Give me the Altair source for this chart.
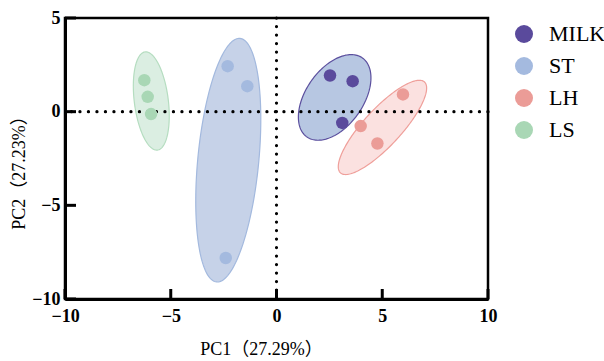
import altair as alt
import pandas as pd
import numpy as np

# ---- data ----
groups = ["MILK", "ST", "LH", "LS"]
point_colors = ["#5a4a9c", "#a4badf", "#eb9c97", "#a9d7b5"]

pt_group = ["MILK", "MILK", "MILK", "ST", "ST", "ST", "LH", "LH", "LH", "LS", "LS", "LS"]
pc1 = [2.53, 3.60, 3.11, -2.31, -1.38, -2.40, 5.98, 3.98, 4.77, -6.25, -6.09, -5.93]
pc2 = [1.93, 1.63, -0.60, 2.43, 1.36, -7.81, 0.92, -0.77, -1.70, 1.68, 0.79, -0.13]

# confidence ellipses: centre, major semi-axis vector, minor semi-axis vector (data units)
ell_group = ["ST", "LS", "MILK", "LH"]
ell_cx = [-2.28, -5.92, 2.75, 5.01]
ell_cy = [-2.59, 0.57, 0.76, -0.84]
ell_ux = [0.553, -0.293, 1.31, 1.987]
ell_uy = [6.50, 2.62, 2.11, 2.424]
ell_vx = [1.435, 0.797, 1.108, 0.645]
ell_vy = [-0.156, 0.114, -0.876, -0.674]
ell_fill = ["#c6d2e8", "#dbeee2", "#b7c7e2", "#fbe1e0"]
ell_stroke = ["#a3b9de", "#b5ddc0", "#5b4f9e", "#ef9f9a"]

x_ticks = [-10, -5, 0, 5, 10]
y_ticks = [-10, -5, 0, 5]

x_title = "PC1（27.29%）"
y_title = "PC2（27.23%）"

W, H = 423, 281
FONT = "Liberation Serif, Noto Sans CJK SC"

# ---- tables ----
points = pd.DataFrame({"group": pt_group, "x": pc1, "y": pc2})

t = np.linspace(0, 2 * np.pi, 181)
ell_tables = []
for i, g in enumerate(ell_group):
    ell_tables.append(pd.DataFrame({
        "group": g,
        "idx": np.arange(len(t)),
        "x": ell_cx[i] + np.cos(t) * ell_ux[i] + np.sin(t) * ell_vx[i],
        "y": ell_cy[i] + np.cos(t) * ell_uy[i] + np.sin(t) * ell_vy[i],
    }))

xs = alt.Scale(domain=[-10, 10], nice=False, zero=False)
ys = alt.Scale(domain=[-10, 5], nice=False, zero=False)

xaxis = alt.Axis(values=x_ticks, title=x_title, ticks=False, grid=False,
                 domainWidth=3, domainColor="black",
                 labelFont=FONT, labelFontWeight="bold", labelFontSize=18,
                 labelColor="black", labelPadding=8, labelFlush=False,
                 titleFont=FONT, titleFontSize=18, titleFontWeight="normal",
                 titleColor="black", titleX=196, titleY=50,
                 titleBaseline="middle", titleAlign="center")
yaxis = alt.Axis(values=y_ticks, title=y_title, ticks=False, grid=False,
                 domainWidth=3, domainColor="black",
                 labelFont=FONT, labelFontWeight="bold", labelFontSize=18,
                 labelColor="black", labelPadding=5, labelFlush=False,
                 titleFont=FONT, titleFontSize=18, titleFontWeight="normal",
                 titleColor="black", titleX=-46, titleY=150,
                 titleBaseline="middle", titleAlign="center", titleAngle=270)

X = alt.X("x:Q", scale=xs, axis=xaxis)
Y = alt.Y("y:Q", scale=ys, axis=yaxis)

layers = []
for i, df in enumerate(ell_tables):
    layers.append(
        alt.Chart(df).mark_line(fill=ell_fill[i], stroke=ell_stroke[i],
                                strokeWidth=1.2, interpolate="linear")
        .encode(x=X, y=Y, order="idx:Q")
    )

dots = dict(color="black", strokeWidth=3.2, strokeDash=[0.1, 8.4], strokeCap="round")
vline = alt.Chart(pd.DataFrame({"x": [0]})).mark_rule(**dots).encode(x=X)
hline = alt.Chart(pd.DataFrame({"y": [0]})).mark_rule(**dots).encode(y=Y)

xt = alt.Chart(pd.DataFrame({"x": x_ticks})).mark_rule(color="black", strokeWidth=3).encode(
    x=X, y=alt.value(H), y2=alt.value(H - 10))
yt = alt.Chart(pd.DataFrame({"y": y_ticks})).mark_rule(color="black", strokeWidth=3).encode(
    y=Y, x=alt.value(0), x2=alt.value(11))

pts = alt.Chart(points).mark_circle(size=156, opacity=1).encode(
    x=X, y=Y,
    color=alt.Color("group:N",
                    scale=alt.Scale(domain=groups, range=point_colors),
                    legend=alt.Legend(title=None, orient="none", legendX=448, legendY=5,
                                      symbolType="circle", symbolSize=324,
                                      symbolOpacity=1, symbolStrokeWidth=0,
                                      labelFont=FONT, labelFontSize=22,
                                      labelColor="black", labelOffset=14,
                                      rowPadding=10, padding=0)),
)

chart = alt.layer(*layers, vline, hline, xt, yt, pts).properties(
    width=W, height=H,
    autosize=alt.AutoSizeParams(type="none"),
    padding={"left": 65, "top": 18, "right": 604 - 65 - W, "bottom": 361 - 18 - H},
    background="white",
).configure_view(stroke="black", strokeWidth=2.5)

chart.save("out.html", embed_options={"renderer": "svg", "actions": False})
